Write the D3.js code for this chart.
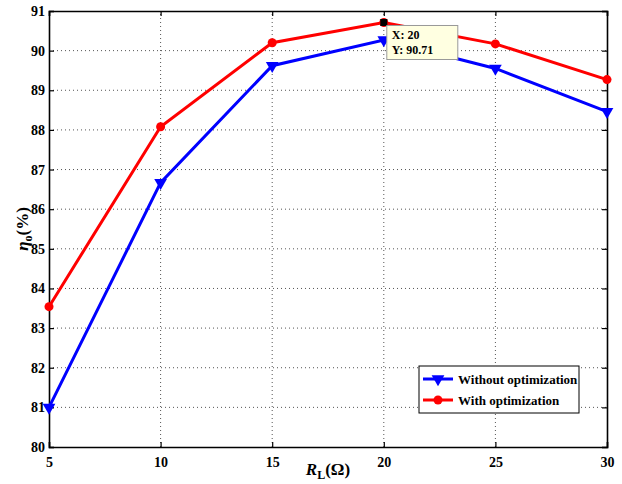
<!DOCTYPE html>
<html>
<head>
<meta charset="utf-8">
<script src="https://cdn.jsdelivr.net/npm/d3@7"></script>
<style>
  body { margin: 0; background: #fff; }
  svg { font-family: "Liberation Serif", "Times New Roman", serif; font-weight: bold; }
</style>
</head>
<body>
<svg width="622" height="484"></svg>
<script>
// load values (ohm) and efficiency (%)
var loads = [5, 10, 15, 20, 25, 30];
var withoutOpt = [81.0, 86.67, 89.62, 90.27, 89.55, 88.46];
var withOpt = [83.54, 88.08, 90.2, 90.71, 90.17, 89.27];
var yTicks = [80, 81, 82, 83, 84, 85, 86, 87, 88, 89, 90, 91];
var xTicks = [5, 10, 15, 20, 25, 30];

var margin = {left: 49, top: 11, right: 15, bottom: 37};
var width = 622, height = 484;
var svg = d3.select("svg");

var x = d3.scaleLinear().domain([5, 30]).range([margin.left, width - margin.right]);
var y = d3.scaleLinear().domain([80, 91]).range([height - margin.bottom, margin.top]);

// grid
var grid = svg.append("g");
grid.selectAll(".gy").data(yTicks.slice(1, -1)).enter().append("line")
    .attr("x1", x(5)).attr("x2", x(30))
    .attr("y1", function (d) { return y(d); }).attr("y2", function (d) { return y(d); })
    .attr("stroke", "#555").attr("stroke-width", 1).attr("stroke-dasharray", "1,3");
grid.selectAll(".gx").data(xTicks.slice(1, -1)).enter().append("line")
    .attr("y1", y(80)).attr("y2", y(91))
    .attr("x1", function (d) { return x(d); }).attr("x2", function (d) { return x(d); })
    .attr("stroke", "#555").attr("stroke-width", 1).attr("stroke-dasharray", "1,3");

// axes
var axL = svg.append("g").attr("transform", "translate(" + margin.left + ",0)")
    .call(d3.axisLeft(y).tickValues(yTicks).tickSize(-5).tickPadding(4).tickFormat(d3.format("d")));
var axR = svg.append("g").attr("transform", "translate(" + x(30) + ",0)")
    .call(d3.axisRight(y).tickValues(yTicks).tickSize(-5).tickFormat(""));
var axB = svg.append("g").attr("transform", "translate(0," + y(80) + ")")
    .call(d3.axisBottom(x).tickValues(xTicks).tickSize(-5).tickPadding(10).tickFormat(d3.format("d")));
var axT = svg.append("g").attr("transform", "translate(0," + y(91) + ")")
    .call(d3.axisTop(x).tickValues(xTicks).tickSize(-5).tickFormat(""));
[axL, axR, axB, axT].forEach(function (a) {
  a.select(".domain").attr("stroke", "#000").attr("stroke-width", 1.6);
  a.selectAll(".tick line").attr("stroke", "#000").attr("stroke-width", 1.2);
  a.selectAll("text").attr("font-family", "Liberation Serif").attr("font-weight", "bold")
    .attr("font-size", 14).attr("fill", "#000");
});

// series
var line = d3.line()
    .x(function (d, i) { return x(loads[i]); })
    .y(function (d) { return y(d); });

svg.append("path").datum(withoutOpt).attr("d", line)
    .attr("fill", "none").attr("stroke", "#0000ff").attr("stroke-width", 3);

svg.append("path").datum(withOpt).attr("d", line)
    .attr("fill", "none").attr("stroke", "#ff0000").attr("stroke-width", 3);

var tri = d3.symbol().type(d3.symbolTriangle).size(70);
svg.selectAll(".tri").data(withoutOpt).enter().append("path")
    .attr("d", tri)
    .attr("transform", function (d, i) { return "translate(" + x(loads[i]) + "," + y(d) + ") rotate(180)"; })
    .attr("fill", "#0000ff");

svg.selectAll(".dot").data(withOpt).enter().append("circle")
    .attr("cx", function (d, i) { return x(loads[i]); })
    .attr("cy", function (d) { return y(d); })
    .attr("r", 4.5).attr("fill", "#ff0000");

// data tip
var tipX = x(20), tipY = y(withOpt[3]);
svg.append("rect").attr("x", tipX - 3.5).attr("y", tipY - 3.5).attr("width", 7).attr("height", 7)
    .attr("fill", "#000");
var tip = svg.append("g").attr("transform", "translate(" + (tipX + 3) + "," + (tipY + 3) + ")");
tip.append("rect").attr("width", 71).attr("height", 34)
    .attr("fill", "#ffffe1").attr("stroke", "#999").attr("stroke-width", 1);
tip.append("text").attr("x", 5).attr("y", 14).attr("font-size", 12).text("X: 20");
tip.append("text").attr("x", 5).attr("y", 29).attr("font-size", 12).text("Y: " + withOpt[3]);

// legend
var lg = svg.append("g").attr("transform", "translate(419,366)");
lg.append("rect").attr("width", 160).attr("height", 47).attr("fill", "#fff")
    .attr("stroke", "#000").attr("stroke-width", 1);
var items = [{name: "Without optimization", color: "#0000ff", mark: "tri"},
             {name: "With optimization", color: "#ff0000", mark: "dot"}];
items.forEach(function (it, i) {
  var cy = 13 + i * 21;
  lg.append("line").attr("x1", 4).attr("x2", 34).attr("y1", cy).attr("y2", cy)
    .attr("stroke", it.color).attr("stroke-width", 3);
  if (it.mark === "tri") {
    lg.append("path").attr("d", tri).attr("transform", "translate(19," + cy + ") rotate(180)").attr("fill", it.color);
  } else {
    lg.append("circle").attr("cx", 19).attr("cy", cy).attr("r", 4.5).attr("fill", it.color);
  }
  lg.append("text").attr("x", 39).attr("y", cy + 4.5).attr("font-size", 13).text(it.name);
});

// axis titles
var xt = svg.append("text").attr("x", (x(5) + x(30)) / 2).attr("y", 475)
    .attr("text-anchor", "middle").attr("font-size", 17);
xt.append("tspan").attr("font-style", "italic").text("R");
xt.append("tspan").attr("font-size", 12).attr("dy", 4).text("L");
xt.append("tspan").attr("dy", -4).text("(Ω)");

var yt = svg.append("text").attr("transform", "translate(28," + ((y(80) + y(91)) / 2) + ") rotate(-90)")
    .attr("text-anchor", "middle").attr("font-size", 17);
yt.append("tspan").attr("font-style", "italic").text("η");
yt.append("tspan").attr("font-size", 12).attr("dy", 4).text("o");
yt.append("tspan").attr("dy", -4).text("(%)");
</script>
</body>
</html>
